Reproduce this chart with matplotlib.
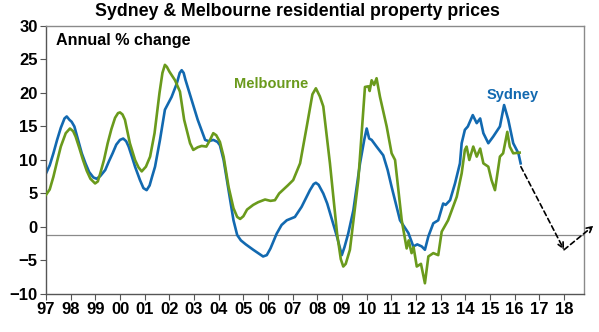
import matplotlib
matplotlib.use("Agg")
import matplotlib.pyplot as plt

plt.rcParams['font.family'] = ['Liberation Sans', 'DejaVu Sans']

# Data (year fraction, annual % change)
syd_x = [1997.0, 1997.15, 1997.3, 1997.45, 1997.6, 1997.75, 1997.84, 1997.95, 1998.04, 1998.15,
         1998.3, 1998.45, 1998.6, 1998.75, 1998.92, 1999.05, 1999.2, 1999.4, 1999.55, 1999.7,
         1999.85, 2000.0, 2000.13, 2000.25, 2000.35, 2000.5, 2000.61, 2000.81, 2000.95, 2001.08,
         2001.2, 2001.3, 2001.42, 2001.62, 2001.82, 2002.09, 2002.3, 2002.42, 2002.5, 2002.58,
         2002.65, 2002.9, 2003.15, 2003.45, 2003.6, 2003.78, 2003.95, 2004.05, 2004.2, 2004.4,
         2004.6, 2004.75, 2004.9, 2005.1, 2005.4, 2005.6, 2005.8, 2005.95, 2006.1, 2006.35,
         2006.55, 2006.76, 2007.09, 2007.36, 2007.7, 2007.85, 2007.94, 2008.05, 2008.24, 2008.4,
         2008.6, 2008.8, 2008.99, 2009.1, 2009.25, 2009.46, 2009.73, 2009.9, 2010.0, 2010.1,
         2010.2, 2010.4, 2010.67, 2010.85, 2011.01, 2011.35, 2011.69, 2011.89, 2012.05, 2012.23,
         2012.36, 2012.5, 2012.7, 2012.9, 2013.1, 2013.2, 2013.38, 2013.58, 2013.78, 2013.85,
         2013.98, 2014.1, 2014.3, 2014.46, 2014.6, 2014.73, 2014.93, 2015.13, 2015.4, 2015.57,
         2015.74, 2015.94, 2016.15, 2016.24]
syd_y = [8.0, 9.2, 11.0, 13.0, 14.8, 16.2, 16.5, 16.0, 15.7, 15.0,
         13.0, 11.0, 9.5, 8.2, 7.4, 7.2, 7.6, 8.5, 9.8, 11.0,
         12.3, 13.0, 13.2, 12.8, 12.0, 10.3, 9.0, 7.0, 5.8, 5.5,
         6.2, 7.5, 9.0, 13.0, 17.5, 19.4, 21.4, 23.0, 23.4, 23.0,
         22.0, 19.0, 16.0, 13.0, 12.8, 13.0, 12.7, 12.2, 10.0, 5.5,
         1.0, -1.2, -2.0, -2.6, -3.4, -3.9, -4.4, -4.2, -3.2, -1.0,
         0.3, 1.0, 1.5, 3.0, 5.5, 6.4, 6.6, 6.3, 5.0, 3.5,
         1.0, -1.5, -4.2, -3.0, -1.0, 2.5, 9.5, 13.0, 14.7, 13.2,
         13.0, 12.0, 10.7, 8.5, 6.0, 1.0, -0.9, -2.9, -2.6, -2.9,
         -3.4, -1.4, 0.55, 1.0, 3.5, 3.3, 4.0, 6.5, 9.5, 12.5,
         14.5, 15.0, 16.7, 15.5, 16.2, 14.0, 12.5, 13.5, 15.0, 18.2,
         16.0, 12.5, 11.0, 9.5]

mel_x = [1997.0, 1997.15, 1997.3, 1997.45, 1997.6, 1997.8, 1997.97, 1998.1, 1998.2, 1998.35,
         1998.5, 1998.65, 1998.8, 1998.99, 1999.1, 1999.2, 1999.35, 1999.5, 1999.65, 1999.8,
         1999.92, 2000.0, 2000.1, 2000.2, 2000.4, 2000.61, 2000.75, 2000.88, 2001.05, 2001.22,
         2001.4, 2001.6, 2001.72, 2001.82, 2001.9, 2002.0, 2002.23, 2002.43, 2002.6, 2002.84,
         2002.97, 2003.15, 2003.31, 2003.5, 2003.65, 2003.78, 2003.9, 2004.05, 2004.2, 2004.4,
         2004.6, 2004.75, 2004.87, 2005.0, 2005.15, 2005.4, 2005.6, 2005.88, 2006.1, 2006.28,
         2006.45, 2006.8, 2007.02, 2007.3, 2007.57, 2007.8, 2007.94, 2008.1, 2008.24, 2008.51,
         2008.8, 2008.95, 2009.05, 2009.15, 2009.32, 2009.66, 2009.93, 2010.07, 2010.12, 2010.2,
         2010.3, 2010.4, 2010.54, 2010.81, 2011.01, 2011.15, 2011.42, 2011.62, 2011.7, 2011.82,
         2011.9, 2012.03, 2012.2, 2012.36, 2012.5, 2012.7, 2012.9, 2013.04, 2013.3, 2013.65,
         2013.85, 2013.98, 2014.05, 2014.16, 2014.32, 2014.46, 2014.6, 2014.73, 2014.93, 2015.06,
         2015.2, 2015.4, 2015.53, 2015.7, 2015.8, 2015.94, 2016.2]
mel_y = [4.8, 5.6, 7.5, 9.8, 12.0, 14.0, 14.7, 14.3, 13.5, 11.8,
         10.0, 8.4, 7.2, 6.5, 6.8, 8.0, 10.0, 12.5, 14.6, 16.3,
         17.0, 17.1, 16.8, 16.0, 12.5, 10.0, 8.9, 8.3, 9.0, 10.5,
         14.0, 20.0, 23.0, 24.2, 23.9, 23.2, 21.9, 20.2, 16.0, 12.5,
         11.5, 11.9, 12.1, 12.0, 13.0, 14.0, 13.7, 12.7, 10.5, 6.0,
         2.8, 1.5, 1.2, 1.6, 2.6, 3.3, 3.7, 4.1, 3.9, 4.0,
         5.0, 6.2, 7.0, 9.5, 15.0, 19.8, 20.7, 19.5, 18.0, 9.5,
         -1.0, -4.8, -5.9, -5.5, -3.4, 7.0, 20.9, 21.0, 20.3, 21.9,
         21.2, 22.2, 19.4, 15.0, 11.0, 10.0, 1.0, -3.2, -2.0, -3.9,
         -3.0, -5.9, -5.5, -8.4, -4.4, -3.9, -4.2, -0.7, 1.0, 4.5,
         8.0, 11.5, 12.0, 10.0, 12.0, 10.5, 11.7, 9.5, 9.0, 7.0,
         5.5, 10.5, 11.0, 14.2, 12.0, 11.0, 11.1]

forecast_x = [2016.25, 2018.0, 2019.2]
forecast_y = [9.0, -3.4, 0.2]

ref_level = -1.2
year_ticks = list(range(1997, 2019))
year_labels = ['97', '98', '99', '00', '01', '02', '03', '04', '05', '06', '07',
               '08', '09', '10', '11', '12', '13', '14', '15', '16', '17', '18']
y_ticks = [-10, -5, 0, 5, 10, 15, 20, 25, 30]

SYD_C = '#1269b0'
MEL_C = '#6a9a1c'

fig = plt.figure(figsize=(5.99, 3.32), dpi=100)
ax = fig.add_axes([0.0768, 0.1145, 0.8982, 0.8072])

ax.axhline(ref_level, color='#8a8a8a', lw=0.9, zorder=1)
ax.plot(mel_x, mel_y, color=MEL_C, lw=1.9, zorder=3, solid_joinstyle='round')
ax.plot(syd_x, syd_y, color=SYD_C, lw=1.9, zorder=2, solid_joinstyle='round')

for i in range(len(forecast_x) - 1):
    ax.annotate('', xy=(forecast_x[i + 1], forecast_y[i + 1]),
                xytext=(forecast_x[i], forecast_y[i]),
                arrowprops=dict(arrowstyle='->', color='black', lw=1.2,
                                linestyle=(0, (3, 2)), shrinkA=0, shrinkB=0,
                                mutation_scale=10),
                annotation_clip=False, zorder=5)

ax.set_xlim(1997, 2018.81)
ax.set_ylim(-10, 30)
ax.set_xticks(year_ticks)
ax.set_xticklabels(year_labels)
ax.set_yticks(y_ticks)
ax.tick_params(axis='both', labelsize=12, length=4, width=0.8, color='#555555', pad=2)
for lab in ax.get_xticklabels() + ax.get_yticklabels():
    lab.set_fontweight('bold')

for s in ['left', 'bottom']:
    ax.spines[s].set_color('#555555')
    ax.spines[s].set_linewidth(1.0)
for s in ['top', 'right']:
    ax.spines[s].set_color('#8a8a8a')
    ax.spines[s].set_linewidth(1.0)

ax.text(0.0186, 0.945, 'Annual % change', transform=ax.transAxes, fontsize=11.6,
        fontweight='bold', ha='left', va='center', color='black')
ax.text(2006.14, 21.3, 'Melbourne', color=MEL_C, fontsize=10.5, fontweight='bold',
        ha='center', va='center')
ax.text(2015.93, 19.7, 'Sydney', color=SYD_C, fontsize=10.5, fontweight='bold',
        ha='center', va='center')

fig.text(0.496, 0.964, 'Sydney & Melbourne residential property prices', fontsize=12.8,
         fontweight='bold', ha='center', va='center')

fig.savefig('out.png', dpi=100)
